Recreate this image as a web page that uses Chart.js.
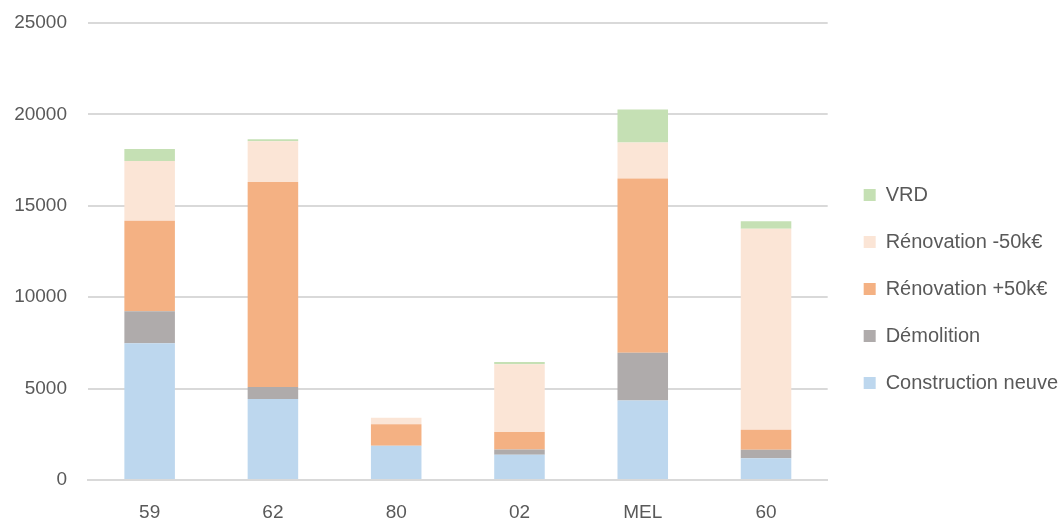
<!DOCTYPE html>
<html>
<head>
<meta charset="utf-8">
<script src="https://cdn.jsdelivr.net/npm/chart.js@4/dist/chart.umd.min.js"></script>
<style>
  html, body { margin: 0; padding: 0; background: #fff; }
  #wrap { width: 1059px; height: 523px; }
</style>
</head>
<body>
<div id="wrap"><canvas id="stackChart"></canvas></div>
<script>
// categories (departements)
const categories = ['59', '62', '80', '02', 'MEL', '60']

// series values, bottom to top of each stack
const constructionNeuve = [7480, 4430, 1870, 1380, 4350, 1190]
const demolition = [1750, 660, 0, 290, 2610, 460]
const renovationPlus = [4950, 11210, 1180, 950, 9530, 1100]
const renovationMoins = [3270, 2230, 350, 3710, 1970, 10990]
const vrd = [660, 110, 0, 130, 1810, 420]

const yTicks = [0, 5000, 10000, 15000, 20000, 25000]

const textColor = '#595959'
const fontFamily = "'Liberation Sans', Arial, sans-serif"

const data = {
    labels: categories,
    datasets: [
        { label: 'Construction neuve', data: constructionNeuve, backgroundColor: '#BDD7EE' },
        { label: 'Démolition', data: demolition, backgroundColor: '#AFABAB' },
        { label: 'Rénovation +50k€', data: renovationPlus, backgroundColor: '#F4B183' },
        { label: 'Rénovation -50k€', data: renovationMoins, backgroundColor: '#FBE5D6' },
        { label: 'VRD', data: vrd, backgroundColor: '#C5E0B4' }
    ]
}

// move the legend a bit to the right, closer to the edge like the original
const legendShift = {
    id: 'legendShift',
    afterLayout(chart) {
        chart.legend.left += 9
        chart.legend.right += 9
    }
}

const options = {
    responsive: true,
    maintainAspectRatio: false,
    animation: false,
    layout: { padding: { left: 14, top: 23, right: 0, bottom: 0 } },
    datasets: {
        bar: { categoryPercentage: 0.41, barPercentage: 1, borderWidth: 0 }
    },
    scales: {
        x: {
            stacked: true,
            afterFit: axis => { axis.height = 43 },
            grid: { display: false, drawTicks: false },
            border: { color: '#D9D9D9', width: 2 },
            ticks: { color: textColor, padding: 21, font: { family: fontFamily, size: 19 } }
        },
        y: {
            stacked: true,
            min: 0,
            max: 25000,
            afterBuildTicks: axis => { axis.ticks = yTicks.map(v => ({ value: v })) },
            // the tick padding should not push the plot area around
            afterFit: axis => { axis.width = 74; axis.paddingTop = 0; axis.paddingBottom = 0 },
            grid: { color: '#D9D9D9', lineWidth: 2, drawTicks: false },
            border: { display: false },
            ticks: {
                color: textColor,
                padding: 21,
                font: { family: fontFamily, size: 19 },
                callback: v => String(v)
            }
        }
    },
    plugins: {
        tooltip: { enabled: false },
        legend: {
            position: 'right',
            reverse: true,
            title: { display: true, text: '', padding: { top: 4, bottom: 4 }, font: { size: 20 } },
            labels: {
                color: textColor,
                boxWidth: 12,
                boxHeight: 12,
                padding: 27,
                font: { family: fontFamily, size: 20 }
            }
        }
    }
}

new Chart('stackChart', { type: 'bar', data, options, plugins: [legendShift] })
</script>
</body>
</html>
